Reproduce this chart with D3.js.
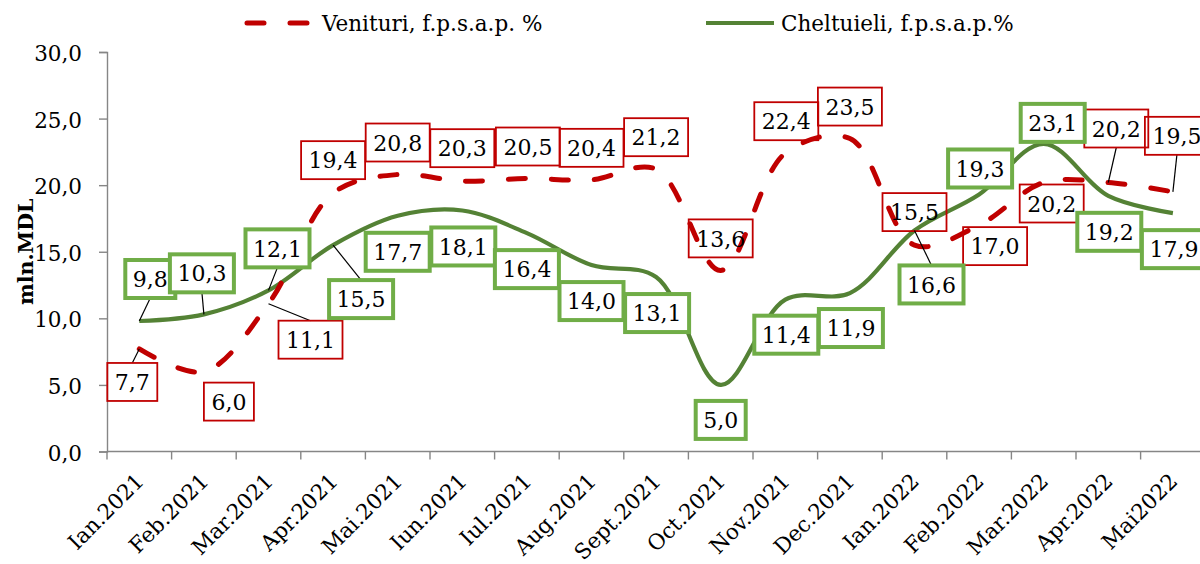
<!DOCTYPE html>
<html><head><meta charset="utf-8">
<script src="https://cdn.jsdelivr.net/npm/d3@7"></script>
<style>html,body{margin:0;padding:0;background:#fff}svg{display:block}</style>
</head><body>
<svg id="chart" width="1200" height="564"></svg>
<script>
// ---- data ----
const categories = ["Ian.2021","Feb.2021","Mar.2021","Apr.2021","Mai.2021","Iun.2021","Iul.2021","Aug.2021","Sept.2021","Oct.2021","Nov.2021","Dec.2021","Ian.2022","Feb.2022","Mar.2022","Apr.2022","Mai2022"];
const venituri   = [7.7, 6.0, 11.1, 19.4, 20.8, 20.3, 20.5, 20.4, 21.2, 13.6, 22.4, 23.5, 15.5, 17.0, 20.2, 20.2, 19.5];
const cheltuieli = [9.8, 10.3, 12.1, 15.5, 17.7, 18.1, 16.4, 14.0, 13.1, 5.0, 11.4, 11.9, 16.6, 19.3, 23.1, 19.2, 17.9];
const yTicks = [0, 5, 10, 15, 20, 25, 30];
const seriesNames = ["Venituri, f.p.s.a.p. %", "Cheltuieli, f.p.s.a.p.%"];
const yTitle = "mln.MDL";

// ---- label layout (pixel offsets of label box centres from their points) ----
const venOffsets = [[-7,33],[25,30],[42,36],[0,-33],[0,-32],[0,-33],[1,-32],[0,-32],[0,-32],[0,-32],[1,-32],[0,-32],[0,-33],[16,21],[8,21],[8,-54],[4,-56]];
const venLeaders = [0, 2, 15, 16];
const chOffsets  = [[11,-42],[-2,-41],[9,-42],[28,54],[0,36],[1,36],[0,36],[0,36],[1,36],[0,35],[1,35],[1,35],[17,54],[1,-26],[9,-21],[1,36],[1,36]];
const chLeaders  = [0, 1, 2, 3, 12];

const FONT = "'DejaVu Serif', serif";
const RED = "#C00000", GREEN_LINE = "#548235", GREEN_BOX = "#70AD47", AXIS = "#868686";

const svg = d3.select("#chart");
const left = 107, step = 64.6;
const x = d3.scaleBand().domain(categories).range([left, left + step * categories.length]).padding(0);
const y = d3.scaleLinear().domain([0, 30]).range([451.5, 52]);
const cx = c => x(c) + x.bandwidth() / 2;
const fmt = v => d3.format(".1f")(v).replace(".", ",");

// ---- y axis ----
const yAxis = svg.append("g").attr("transform", `translate(${left},0)`)
  .call(d3.axisLeft(y).tickValues(yTicks).tickSize(8).tickPadding(17).tickFormat(fmt));
yAxis.select(".domain").attr("stroke", AXIS).attr("stroke-width", 1.4);
yAxis.selectAll(".tick line").attr("stroke", AXIS).attr("stroke-width", 1.4);
yAxis.selectAll(".tick text").attr("font-family", FONT).attr("font-size", 21.5).attr("fill", "#000").attr("dy", "0.4em");

// ---- x axis ----
const xg = svg.append("g");
xg.append("line").attr("x1", left).attr("x2", x.range()[1]).attr("y1", y(0)).attr("y2", y(0))
  .attr("stroke", AXIS).attr("stroke-width", 1.4);
xg.selectAll("line.tk").data(categories.concat([null])).join("line").attr("class", "tk")
  .attr("x1", (d, i) => left + i * x.step()).attr("x2", (d, i) => left + i * x.step())
  .attr("y1", y(0)).attr("y2", y(0) + 8).attr("stroke", AXIS).attr("stroke-width", 1.4);
xg.selectAll("text").data(categories).join("text")
  .attr("transform", d => `translate(${cx(d) + 6},${y(0) + 31}) rotate(-45)`)
  .attr("text-anchor", "end").attr("font-family", FONT).attr("font-size", 21.5).attr("fill", "#000")
  .text(d => d);

// ---- y title ----
svg.append("text").attr("transform", `translate(33,${(y(0) + y(30)) / 2}) rotate(-90)`)
  .attr("text-anchor", "middle").attr("font-family", FONT).attr("font-size", 20.5).attr("font-weight", "bold")
  .text(yTitle);

// ---- lines ----
const line = d3.line().x((d, i) => cx(categories[i])).y(d => y(d)).curve(d3.curveCatmullRom.alpha(0.5));
svg.append("path").datum(cheltuieli).attr("d", line).attr("fill", "none")
  .attr("stroke", GREEN_LINE).attr("stroke-width", 4.2).attr("stroke-linejoin", "round");
svg.append("path").datum(venituri).attr("d", line).attr("fill", "none")
  .attr("stroke", RED).attr("stroke-width", 5).attr("stroke-dasharray", "17,26").attr("stroke-linecap", "round");

// ---- labels ----
function drawLabels(values, offsets, leaders, cls, stroke, sw, fill) {
  const g = svg.append("g");
  values.forEach((v, i) => {
    const px = cx(categories[i]), py = y(v);
    const lx = px + offsets[i][0], ly = py + offsets[i][1];
    const txt = fmt(v);
    const w = txt.length === 3 ? 50 : 64, h = cls === "g" ? 38 : 38;
    if (leaders.includes(i)) {
      const ey = ly > py ? ly - h / 2 : ly + h / 2;
      g.append("line").attr("x1", px).attr("y1", py).attr("x2", lx).attr("y2", ey)
        .attr("stroke", "#000").attr("stroke-width", 1.2);
    }
    g.append("rect").attr("x", lx - w / 2).attr("y", ly - h / 2).attr("width", w).attr("height", h)
      .attr("fill", fill).attr("stroke", stroke).attr("stroke-width", sw);
    g.append("text").attr("x", lx).attr("y", ly).attr("dy", "0.37em").attr("text-anchor", "middle")
      .attr("font-family", FONT).attr("font-size", 22).attr("fill", "#000").text(txt);
  });
}
drawLabels(venituri, venOffsets, venLeaders, "r", RED, 1.8, "none");
drawLabels(cheltuieli, chOffsets, chLeaders, "g", GREEN_BOX, 4, "#fff");

// ---- legend ----
const lg = svg.append("g");
lg.append("line").attr("x1", 247).attr("x2", 307).attr("y1", 23).attr("y2", 23)
  .attr("stroke", RED).attr("stroke-width", 5).attr("stroke-linecap", "round").attr("stroke-dasharray", "17,26");
lg.append("text").attr("x", 322).attr("y", 31).attr("font-family", FONT).attr("font-size", 21.5).text(seriesNames[0]);
lg.append("line").attr("x1", 706).attr("x2", 774).attr("y1", 23).attr("y2", 23)
  .attr("stroke", GREEN_LINE).attr("stroke-width", 4.2);
lg.append("text").attr("x", 781).attr("y", 31).attr("font-family", FONT).attr("font-size", 21.5).text(seriesNames[1]);
</script>
</body></html>
